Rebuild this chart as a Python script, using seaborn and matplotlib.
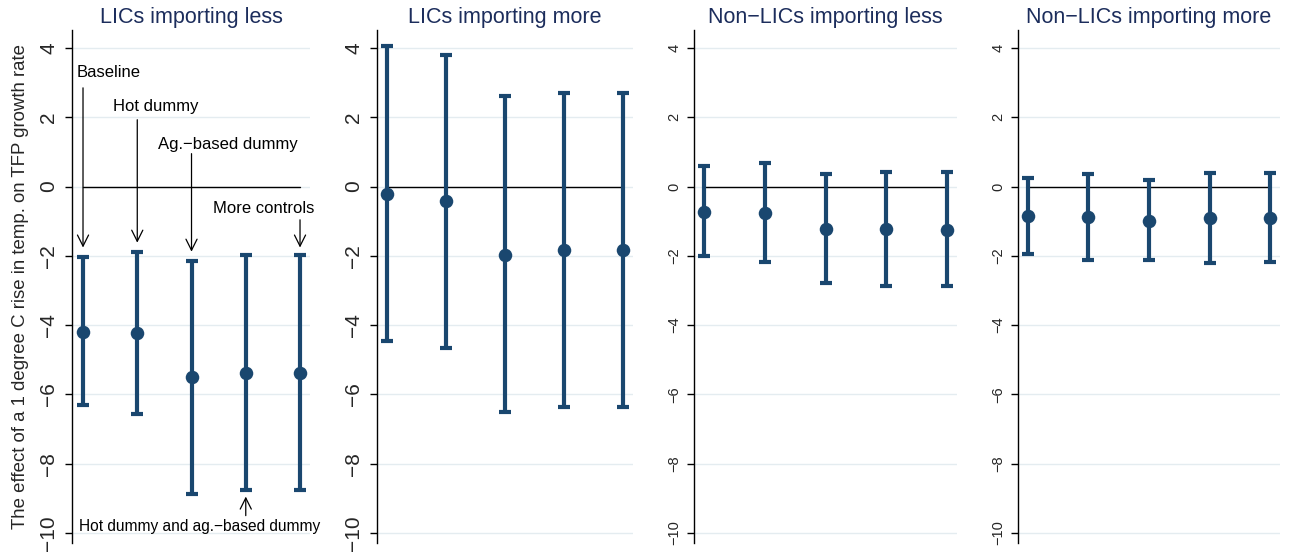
import numpy as np
import pandas as pd
import matplotlib
matplotlib.use("Agg")
import matplotlib.pyplot as plt
import seaborn as sns

# Specifications (x positions 1..5 in each panel)
specs = ["Baseline", "Hot dummy", "Ag.−based dummy",
         "Hot dummy and ag.−based dummy", "More controls"]
positions = [1, 2, 3, 4, 5]

titles = ["LICs importing less", "LICs importing more",
          "Non−LICs importing less", "Non−LICs importing more"]

# Point estimates and 95% confidence bounds
coef_lics_less = [-4.20, -4.24, -5.51, -5.37, -5.37]
low_lics_less = [-6.31, -6.57, -8.87, -8.77, -8.77]
high_lics_less = [-2.03, -1.90, -2.16, -1.97, -1.97]

coef_lics_more = [-0.21, -0.43, -1.97, -1.82, -1.82]
low_lics_more = [-4.47, -4.65, -6.52, -6.37, -6.37]
high_lics_more = [4.07, 3.80, 2.62, 2.71, 2.71]

coef_non_less = [-0.74, -0.76, -1.23, -1.23, -1.24]
low_non_less = [-2.00, -2.19, -2.77, -2.86, -2.88]
high_non_less = [0.59, 0.67, 0.35, 0.41, 0.42]

coef_non_more = [-0.86, -0.88, -0.98, -0.92, -0.92]
low_non_more = [-1.95, -2.11, -2.13, -2.21, -2.19]
high_non_more = [0.25, 0.36, 0.18, 0.38, 0.38]

yticks = [-10, -8, -6, -4, -2, 0, 2, 4]
ylabel = "The effect of a 1 degree C rise in temp. on TFP growth rate"

panels = [
    (coef_lics_less, low_lics_less, high_lics_less),
    (coef_lics_more, low_lics_more, high_lics_more),
    (coef_non_less, low_non_less, high_non_less),
    (coef_non_more, low_non_more, high_non_more),
]

sns.set_theme(style="white")
plt.rcParams["font.family"] = ["Liberation Sans", "DejaVu Sans"]
plt.rcParams["axes.unicode_minus"] = True

NAVY = "#1a476f"
TITLE_C = "#1c2d5c"
GRID_C = "#e4ecf0"

W, H = 1289, 555
fig = plt.figure(figsize=(W / 100, H / 100), dpi=100)

# axes rectangles in pixels: left, right
rects = [(72, 310), (377, 633), (694, 957), (1018, 1280)]
xlims = [(0.797, 5.184), (0.83, 5.17), (0.835, 5.165), (0.835, 5.165)]
top_px, bot_px = 30, 543
tick_sizes = [15, 15, 10.5, 10.5]

axes = []
for i, ((l, r), (coef, lo, hi)) in enumerate(zip(rects, panels)):
    ax = fig.add_axes([l / W, 1 - bot_px / H, (r - l) / W, (bot_px - top_px) / H])
    axes.append(ax)
    df = pd.DataFrame({"pos": positions, "coef": coef, "low": lo, "high": hi,
                       "spec": specs})

    for t in yticks:
        ax.axhline(t, color=GRID_C, lw=1.0, zorder=0)
    ax.plot([positions[0], positions[-1]], [0, 0], color="black", lw=1.0, zorder=1)

    err = np.array([df["coef"] - df["low"], df["high"] - df["coef"]])
    ax.errorbar(df["pos"], df["coef"], yerr=err, fmt="none", ecolor=NAVY,
                elinewidth=3.0, capsize=4.2, capthick=3.0, zorder=2)
    sns.scatterplot(data=df, x="pos", y="coef", ax=ax, color=NAVY, s=95,
                    edgecolor=NAVY, linewidth=0, zorder=3, legend=False)

    ax.set_xlim(*xlims[i])
    ax.set_ylim(-10.29, 4.52)
    ax.set_yticks(yticks)
    ax.set_yticklabels([str(t).replace("-", "−") for t in yticks],
                       rotation=90, va="center", fontsize=tick_sizes[i])
    ax.set_xticks([])
    ax.set_xlabel("")
    ax.set_ylabel("")
    for side in ["top", "right", "bottom"]:
        ax.spines[side].set_visible(False)
    ax.spines["left"].set_color("black")
    ax.spines["left"].set_linewidth(1.0)
    ax.tick_params(axis="y", direction="out", length=5, width=1.0,
                   color="black", pad=5 if i < 2 else 4, left=True)
    ax.set_facecolor("white")
    ax.set_title(titles[i], fontsize=15.5, color=TITLE_C, pad=5)

# axis label for the first panel
axes[0].set_ylabel(ylabel, fontsize=13.4, labelpad=7)

# specification labels with arrows in the first panel
ax0 = axes[0]
arrow_kw = dict(arrowstyle="->", color="black", lw=0.9, mutation_scale=20,
                shrinkA=0, shrinkB=0)
label_specs = [
    # (spec index, text x, text y, arrow start y, arrow end y)
    (0, 0.89, 3.29, 2.85, -1.76),
    (1, 1.55, 2.31, 1.93, -1.62),
    (2, 2.38, 1.21, 0.95, -1.88),
    (4, 3.40, -0.64, -0.96, -1.76),
]
for idx, tx, ty, y0, y1 in label_specs:
    ax0.text(tx, ty, specs[idx], fontsize=12, ha="left", va="center", color="black")
    ax0.annotate("", xy=(positions[idx], y1), xytext=(positions[idx], y0),
                 arrowprops=arrow_kw)

ax0.text(0.93, -9.81, specs[3], fontsize=11.2, ha="left", va="center", color="black")
ax0.annotate("", xy=(positions[3], -8.95), xytext=(positions[3], -9.50),
             arrowprops=arrow_kw)

fig.savefig("out.png", dpi=100, facecolor="white")
